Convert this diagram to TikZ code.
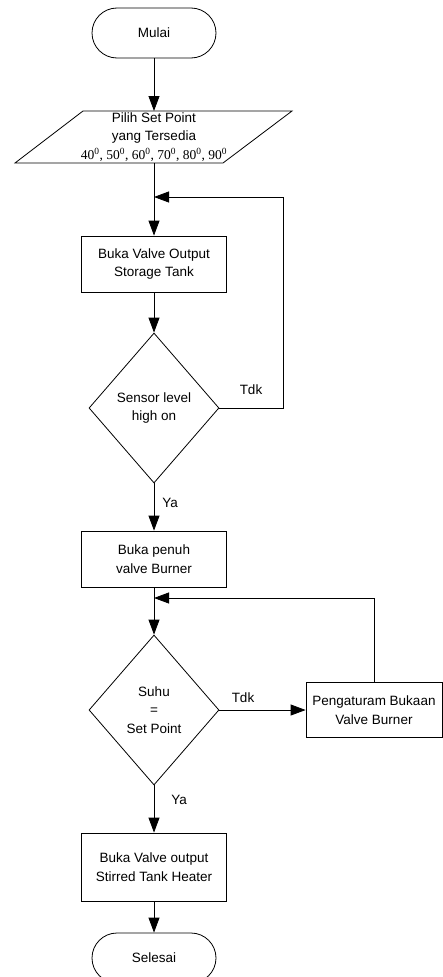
\documentclass[tikz,border=0pt]{standalone}
\usepackage{fontspec}
\setmainfont{Liberation Sans}
\newfontfamily\serifnum{Liberation Serif}
\usetikzlibrary{shapes.geometric,arrows.meta}
\begin{document}
\begin{tikzpicture}[x=1pt,y=-1pt,
  font=\fontsize{13.5}{18.5}\selectfont,
  line width=0.8pt,
  arr/.style={-{Triangle[length=15pt,width=11pt]}},
  term/.style={draw, rounded corners=25pt, minimum width=124pt, minimum height=50pt, inner sep=0pt},
  proc/.style={draw, align=center, minimum width=145pt, minimum height=56pt, inner sep=0pt},
  dec/.style={draw, diamond, align=center, minimum width=130pt, minimum height=150pt, inner sep=0pt},
  lbl/.style={inner sep=0pt}]
\fill[white] (0,0) rectangle (443,977);
\useasboundingbox (0,0) rectangle (443,977);

% start
\node[term] (start) at (154,33) {Mulai};

% input parallelogram
\coordinate (pTL) at (83,111);
\coordinate (pTR) at (292,111);
\coordinate (pBR) at (223,163);
\coordinate (pBL) at (15,163);
\draw (pTL) -- (pTR) -- (pBR) -- (pBL) -- cycle;
\node[align=center, inner sep=0pt] (input) at (154,137)
  {Pilih Set Point\\yang Tersedia\\{\serifnum 40\textsuperscript{0}, 50\textsuperscript{0}, 60\textsuperscript{0}, 70\textsuperscript{0}, 80\textsuperscript{0}, 90\textsuperscript{0}}};
\coordinate (inT) at (154,111);
\coordinate (inB) at (154,163);

\coordinate (j1) at (154,197);
\coordinate (r1) at (283,197);
\node[proc] (b1) at (154,264) {Buka Valve Output\\Storage Tank};
\node[dec] (d1) at (154,408) {Sensor level\\high on};
\node[proc] (b2) at (154,559) {Buka penuh\\valve Burner};
\coordinate (j2) at (154,598);
\node[dec] (d2) at (154,710) {Suhu\\=\\Set Point};
\node[proc, minimum width=136pt, minimum height=55pt] (b3) at (374,710) {Pengaturam Bukaan\\Valve Burner};
\node[proc, minimum height=68pt] (b4) at (154,867) {Buka Valve output\\Stirred Tank Heater};
\node[term] (end) at (154,958) {Selesai};

% labels
\node[lbl] (t1) at (251,390) {Tdk};
\node[lbl, anchor=west] (y1) at (162,503) {Ya};
\node[lbl] (t2) at (243,698) {Tdk};
\node[lbl, anchor=west] (y2) at (171,800) {Ya};

% connectors
\draw[arr] (start) -- (inT);
\draw (inB) -- (j1);
\draw[arr] (j1) -- (b1);
\draw[arr] (b1) -- (d1);
\draw[arr] (d1.east) -| (r1) -- (j1);
\draw[arr] (d1) -- (b2);
\draw (b2) -- (j2);
\draw[arr] (j2) -- (d2);
\draw[arr] (d2) -- (b3);
\draw[arr] (b3.north) |- (j2);
\draw[arr] (d2) -- (b4);
\draw[arr] (b4) -- (end);
\end{tikzpicture}
\end{document}
